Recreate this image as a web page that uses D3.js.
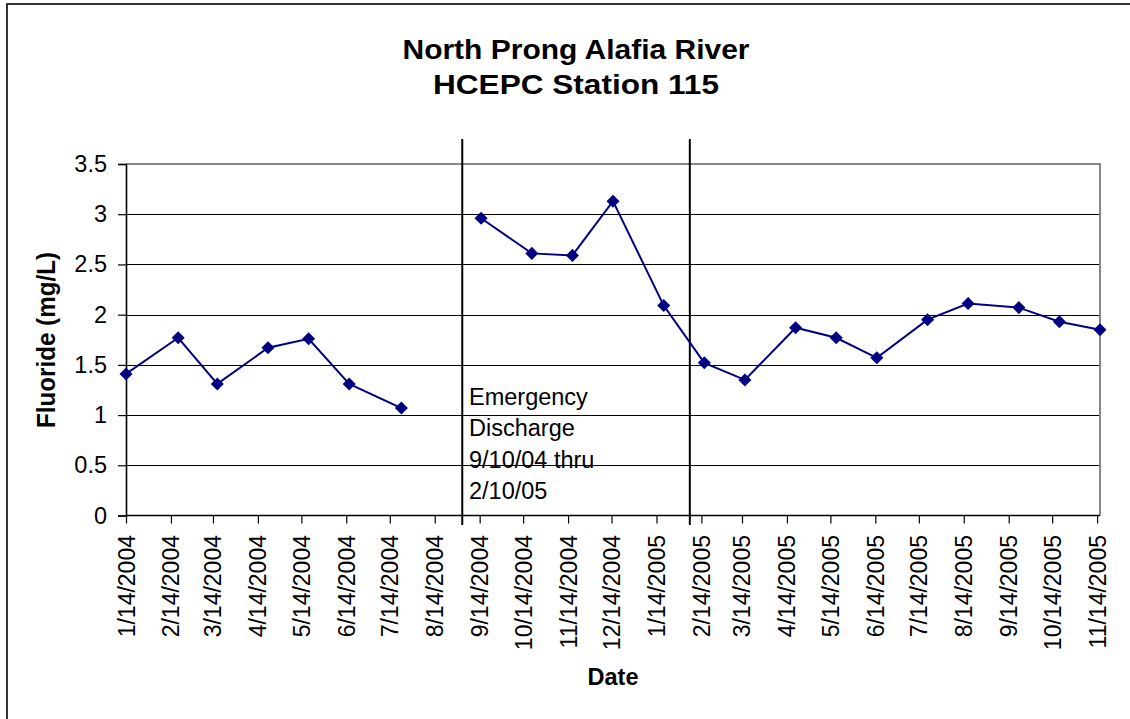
<!DOCTYPE html>
<html><head><meta charset="utf-8">
<script src="https://cdn.jsdelivr.net/npm/d3@7"></script>
<style>body{margin:0;background:#fff;}svg{display:block;font-family:"Liberation Sans",Arial,sans-serif;}</style>
</head><body>
<svg id="chart" width="1130" height="719"></svg>
<script>
const titleLines = ["North Prong Alafia River", "HCEPC Station 115"];
const yLabel = "Fluoride (mg/L)";
const xLabel = "Date";
const sampleDates = ["2004-01-14","2004-02-19","2004-03-17","2004-04-21","2004-05-19","2004-06-16","2004-07-22",
  "2004-08-18",
  "2004-09-15","2004-10-20","2004-11-17","2004-12-15","2005-01-19","2005-02-16","2005-03-16","2005-04-20",
  "2005-05-18","2005-06-15","2005-07-20","2005-08-17","2005-09-21","2005-10-19","2005-11-16"];
const fluoride = [1.41,1.77,1.31,1.67,1.76,1.31,1.07,
  null,
  2.96,2.61,2.59,3.13,2.09,1.52,1.35,1.87,
  1.77,1.57,1.95,2.11,2.07,1.93,1.85];
const tickDates = ["2004-01-14","2004-02-14","2004-03-14","2004-04-14","2004-05-14","2004-06-14","2004-07-14","2004-08-14",
  "2004-09-14","2004-10-14","2004-11-14","2004-12-14","2005-01-14","2005-02-14","2005-03-14","2005-04-14","2005-05-14",
  "2005-06-14","2005-07-14","2005-08-14","2005-09-14","2005-10-14","2005-11-14"];
const yTicks = [0,0.5,1,1.5,2,2.5,3,3.5];
const dividerDates = ["2004-09-02","2005-02-06"];
const noteLines = ["Emergency","Discharge","9/10/04 thru","2/10/05"];
const domainDates = ["2004-01-14","2005-11-16"];

const parse = d3.utcParse("%Y-%m-%d");
const fmt = d => (d.getUTCMonth()+1) + "/" + d.getUTCDate() + "/" + d.getUTCFullYear();
const svg = d3.select("#chart");
const L = 126, R = 1100, T = 164, B = 515.5;

const x = d3.scaleUtc().domain(domainDates.map(parse)).range([L, R]);
const y = d3.scaleLinear().domain([0, 3.5]).range([B, T]);

// outer frame
svg.append("rect").attr("x",7).attr("y",4).attr("width",1140).attr("height",730)
  .attr("fill","none").attr("stroke","#000").attr("stroke-width",1.6);

// title
svg.append("g").selectAll("text").data(titleLines).join("text")
  .attr("x",576).attr("y",(d,i)=>58.5+i*35).attr("text-anchor","middle")
  .attr("font-size",27).attr("font-weight","bold")
  .attr("textLength",(d,i)=>i===0?347:286).attr("lengthAdjust","spacingAndGlyphs")
  .text(d=>d);

// gridlines
svg.append("g").selectAll("line").data(yTicks.filter(v=>v>0 && v<3.5)).join("line")
  .attr("x1",L).attr("x2",R).attr("y1",d=>Math.round(y(d))+0.5).attr("y2",d=>Math.round(y(d))+0.5)
  .attr("stroke","#000").attr("stroke-width",1);

// plot border top/right (gray)
svg.append("path").attr("d",`M${L},${T}H${R}V${B}`).attr("fill","none")
  .attr("stroke","#888").attr("stroke-width",2);

// y axis
const yAxis = d3.axisLeft(y).tickValues(yTicks).tickSize(8).tickPadding(11).tickFormat(d3.format("~g"));
const gy = svg.append("g").attr("transform",`translate(${L},0)`).call(yAxis);
gy.select(".domain").attr("stroke","#000").attr("stroke-width",1.6);
gy.selectAll(".tick line").attr("stroke","#000").attr("stroke-width",1.2);
gy.selectAll(".tick text").attr("font-size",23.5).attr("font-family","Liberation Sans, Arial, sans-serif").attr("fill","#000");

// x axis
const xAxis = d3.axisBottom(x).tickValues(tickDates.map(parse)).tickSize(8).tickFormat(fmt);
const gx = svg.append("g").attr("transform",`translate(0,${B})`).call(xAxis);
gx.select(".domain").attr("stroke","#000").attr("stroke-width",1.6).attr("d",`M${L},0H${R}`);
gx.selectAll(".tick line").attr("stroke","#000").attr("stroke-width",1.2);
gx.selectAll(".tick text").attr("font-size",23).attr("font-family","Liberation Sans, Arial, sans-serif").attr("fill","#000")
  .attr("text-anchor","end").attr("transform","rotate(-90)").attr("x",-19.5).attr("y",8).attr("dy",0);

// divider lines
svg.append("g").selectAll("line").data(dividerDates.map(parse)).join("line")
  .attr("x1",d=>x(d)).attr("x2",d=>x(d)).attr("y1",139).attr("y2",525)
  .attr("stroke","#000").attr("stroke-width",2);

// annotation
svg.append("g").selectAll("text").data(noteLines).join("text")
  .attr("x",469).attr("y",(d,i)=>405+i*31.4).attr("font-size",23.5).attr("fill","#000")
  .text(d=>d);

// series
const pts = sampleDates.map((d,i)=>({date:parse(d), v:fluoride[i]}));
svg.append("path").datum(pts).attr("fill","none").attr("stroke","#000080").attr("stroke-width",2)
  .attr("d", d3.line().defined(d=>d.v!=null).x(d=>x(d.date)).y(d=>y(d.v)));
svg.append("g").selectAll("path").data(pts.filter(d=>d.v!=null)).join("path")
  .attr("d", d3.symbol(d3.symbolSquare, 85))
  .attr("transform", d=>`translate(${x(d.date)},${y(d.v)}) rotate(45)`)
  .attr("fill","#000080");

// axis titles
svg.append("text").attr("transform","translate(55,340) rotate(-90)").attr("text-anchor","middle")
  .attr("font-size",25).attr("font-weight","bold").attr("textLength",176).attr("lengthAdjust","spacingAndGlyphs").text(yLabel);
svg.append("text").attr("x",613).attr("y",685).attr("text-anchor","middle")
  .attr("font-size",23.5).attr("font-weight","bold").text(xLabel);
</script>
</body></html>
